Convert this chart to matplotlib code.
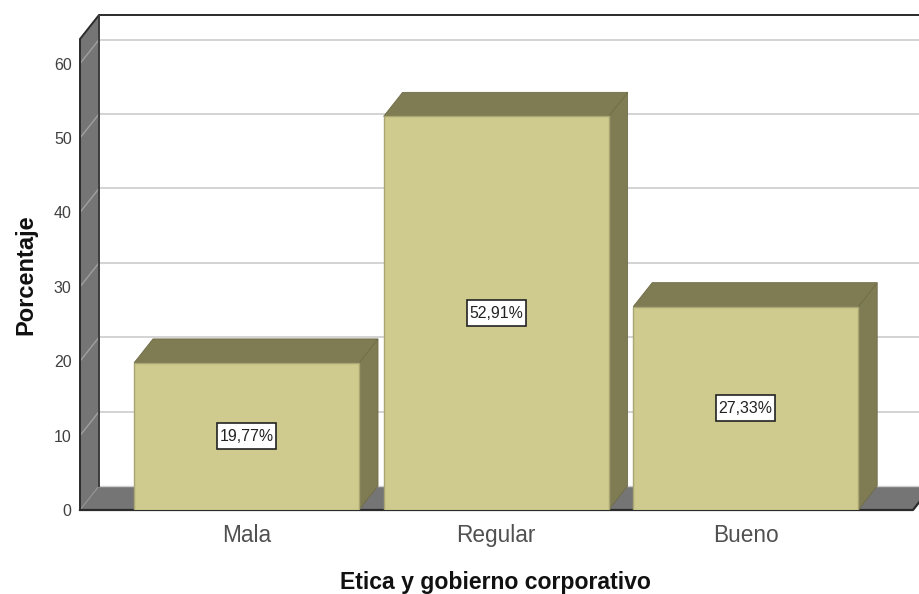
import matplotlib
matplotlib.use("Agg")
import matplotlib.pyplot as plt
from matplotlib.patches import Polygon, Rectangle

categories = ["Mala", "Regular", "Bueno"]
heights = [19.77, 52.91, 27.33]
labels = ["19,77%", "52,91%", "27,33%"]
yticks = [0, 10, 20, 30, 40, 50, 60]

W, H = 919, 594
px_y = 7.44          # pixels per percent
px_x = 249.6         # pixels per category
x_center0 = 246.5
dx = 19 / px_x       # 3-D depth
dy = 24 / px_y
bar_w = 225 / px_x

plt.rcParams['font.family'] = ['Liberation Sans', 'DejaVu Sans']
fig = plt.figure(figsize=(W / 100, H / 100), dpi=100, facecolor="white")
ax = fig.add_axes([80 / W, 1 - 510 / H, (W - 80) / W, (510 - 15) / H])
ax.set_xlim((80 - x_center0) / px_x, (W - x_center0) / px_x)
ax.set_ylim(0, (510 - 15) / px_y)
for s in ax.spines.values():
    s.set_visible(False)

x0, x1 = ax.get_xlim()
ytop = ax.get_ylim()[1] - dy
xfloor = (913 - x_center0) / px_x

wall = "#757575"
dark = "#2b2b2b"
grid = "#d0d0d0"

# back-wall gridlines
ax.hlines([v + dy for v in yticks[1:]], x0 + dx, x1, color=grid, lw=1.3, zorder=1)
# left wall
ax.add_patch(Polygon([(x0, 0), (x0 + dx, dy), (x0 + dx, ytop + dy), (x0, ytop)],
                     closed=True, fc=wall, ec="none", zorder=2))
for v in yticks[1:]:
    ax.plot([x0, x0 + dx], [v, v + dy], color="#a0a0a0", lw=1.0, zorder=3)
ax.plot([x0, x0 + dx], [0, dy], color="#949494", lw=0.8, zorder=3)
# floor
ax.add_patch(Polygon([(x0, 0), (xfloor, 0), (xfloor + dx, dy), (x0 + dx, dy)],
                     closed=True, fc=wall, ec="none", zorder=2))
ax.plot([x0 + dx, x1], [dy, dy], color=grid, lw=1.0, zorder=2)
# dark frame
ax.plot([x0, x0, x0 + dx, x1], [0, ytop, ytop + dy, ytop + dy], color=dark, lw=1.4,
        zorder=4, clip_on=False, solid_joinstyle="miter")
ax.plot([x0 + dx, x0 + dx], [dy, ytop + dy], color="#3c3c3c", lw=1.4, zorder=4)
ax.plot([x0, xfloor, xfloor + 0.6 * dx], [0, 0, 0.6 * dy], color=dark, lw=1.6, zorder=4, clip_on=False)

# bars
xs = list(range(len(categories)))
bars = ax.bar(xs, heights, width=bar_w, color="#cfcb8e", edgecolor="#a9a672", lw=1.0, zorder=6)
for b in bars:
    l, r, t = b.get_x(), b.get_x() + b.get_width(), b.get_height()
    ax.add_patch(Polygon([(r, 0), (r + dx, dy), (r + dx, t + dy), (r, t)], closed=True,
                         fc="#7f7b52", ec="#6f6c4a", lw=0.6, zorder=5))
    ax.add_patch(Polygon([(l, t), (l + dx, t + dy), (r + dx, t + dy), (r, t)], closed=True,
                         fc="#7f7b52", ec="#6f6c4a", lw=0.6, zorder=5))

# value labels
box_w, box_h = 59 / px_x, 26 / px_y
for x, h, lab in zip(xs, heights, labels):
    ax.add_patch(Rectangle((x - box_w / 2, h / 2 - box_h / 2), box_w, box_h,
                           fc="white", ec="#222222", lw=1.2, zorder=7))
    ax.text(x, h / 2, lab, ha="center", va="center", fontsize=11.4, color="#222222", zorder=8)

# axes text
ax.set_xticks(xs, categories)
ax.set_yticks(yticks)
ax.tick_params(axis="x", length=0, pad=10, labelsize=16.3, labelcolor="#505050")
ax.tick_params(axis="y", length=0, pad=6, labelsize=11.5, labelcolor="#404040")
ax.set_xlabel("Etica y gobierno corporativo", fontsize=16.6, fontweight="bold", color="#111111",
              x=(495.5 - 80) / (W - 80), labelpad=17)
ax.set_ylabel("Porcentaje", fontsize=17, fontweight="bold", color="#111111",
              y=(510 - 275) / (510 - 15), labelpad=12)

fig.savefig("out.png", dpi=100, facecolor="white")
